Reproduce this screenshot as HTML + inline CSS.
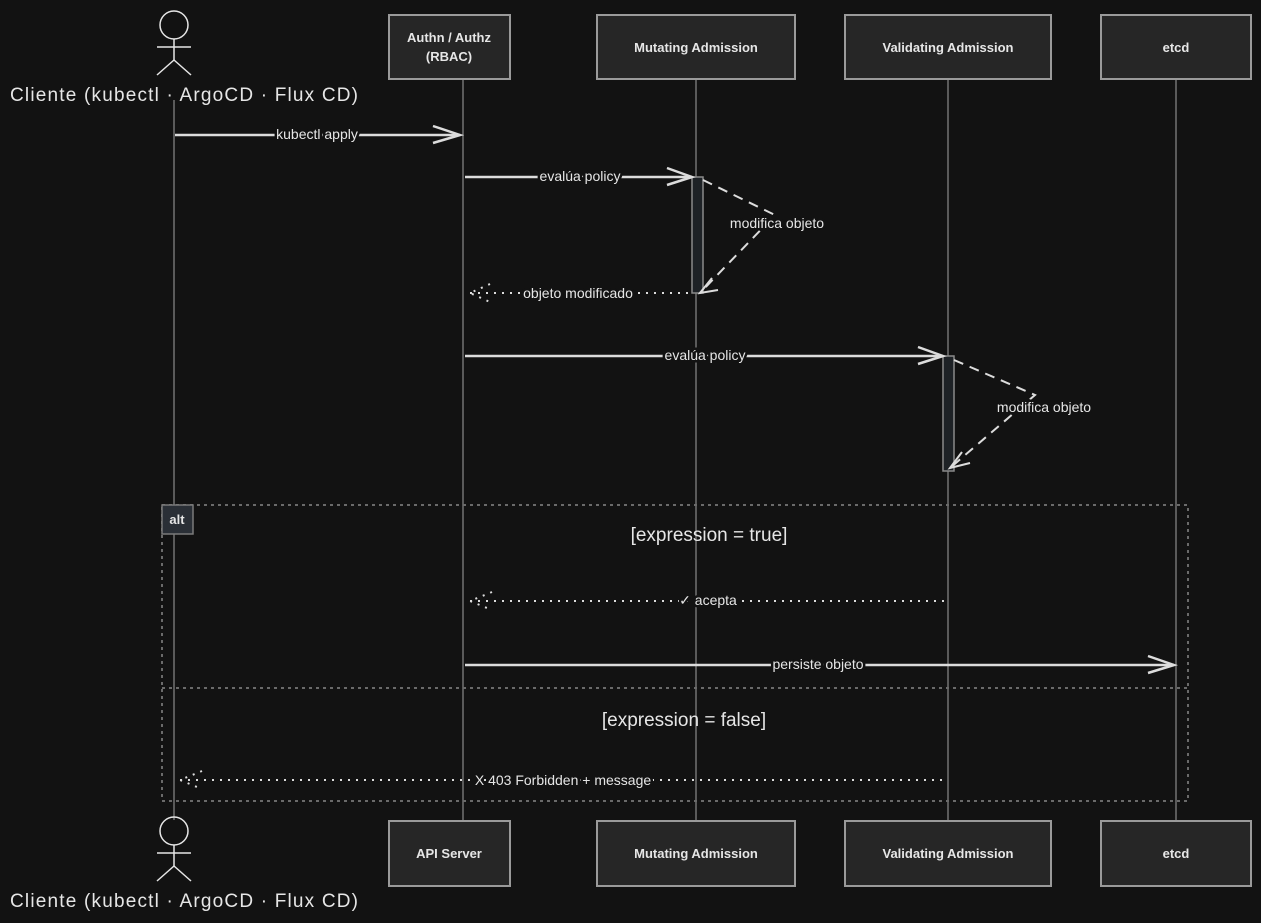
<!DOCTYPE html>
<html><head><style>
body{margin:0;background:#121212;}
svg{display:block}
text{font-family:"Liberation Sans",sans-serif;fill:#e6e6e6}
.lb{paint-order:stroke;stroke:#121212;stroke-width:5px}
</style></head><body>
<svg width="1261" height="923" viewBox="0 0 1261 923">
<rect width="1261" height="923" fill="#121212"/>
<g stroke="#8a8a8a" stroke-width="1.2">
<line x1="174" y1="100" x2="174" y2="820"/>
<line x1="463" y1="79" x2="463" y2="821"/>
<line x1="696" y1="79" x2="696" y2="821"/>
<line x1="948" y1="79" x2="948" y2="821"/>
<line x1="1176" y1="79" x2="1176" y2="821"/>
</g>
<g fill="#262626" stroke="#9a9a9a" stroke-width="2">
<rect x="389" y="15" width="121" height="64"/>
<rect x="597" y="15" width="198" height="64"/>
<rect x="845" y="15" width="206" height="64"/>
<rect x="1101" y="15" width="150" height="64"/>
<rect x="389" y="821" width="121" height="65"/>
<rect x="597" y="821" width="198" height="65"/>
<rect x="845" y="821" width="206" height="65"/>
<rect x="1101" y="821" width="150" height="65"/>
</g>
<g font-size="13" text-anchor="middle" font-weight="bold">
<text x="449" y="42">Authn / Authz</text><text x="449" y="61">(RBAC)</text>
<text x="696" y="52">Mutating Admission</text>
<text x="948" y="52">Validating Admission</text>
<text x="1176" y="52">etcd</text>
<text x="449" y="858">API Server</text>
<text x="696" y="858">Mutating Admission</text>
<text x="948" y="858">Validating Admission</text>
<text x="1176" y="858">etcd</text>
</g>
<g stroke="#e6e6e6" stroke-width="1.5" fill="none">
<circle cx="174" cy="25" r="14"/><line x1="174" y1="39" x2="174" y2="60"/><line x1="157" y1="47" x2="191" y2="47"/><line x1="174" y1="60" x2="157" y2="75"/><line x1="174" y1="60" x2="191" y2="75"/>
<circle cx="174" cy="831" r="14"/><line x1="174" y1="845" x2="174" y2="866"/><line x1="157" y1="853" x2="191" y2="853"/><line x1="174" y1="866" x2="157" y2="881"/><line x1="174" y1="866" x2="191" y2="881"/>
</g>
<g font-size="19" text-anchor="middle">
<text x="184" y="101" textLength="348">Cliente (kubectl · ArgoCD · Flux CD)</text>
<text x="184" y="907" textLength="348">Cliente (kubectl · ArgoCD · Flux CD)</text>
</g>
<g fill="#1e2226" stroke="#8a8a8a" stroke-width="1.5">
<rect x="692" y="177" width="11" height="116"/>
<rect x="943" y="356" width="11" height="115"/>
</g>
<g stroke="#dcdcdc" stroke-width="2.5" fill="none">
<line x1="175" y1="135" x2="460" y2="135"/><polyline points="433,126 460,135 433,143"/>
<line x1="465" y1="177" x2="692" y2="177"/><polyline points="667,168 692,177 667,185"/>
<line x1="465" y1="356" x2="943" y2="356"/><polyline points="918,347 943,356 918,364"/>
<line x1="465" y1="665" x2="1174" y2="665"/><polyline points="1148,656 1174,665 1148,673"/>
</g>
<g stroke="#dcdcdc" stroke-width="2" fill="none" stroke-dasharray="10,7">
<polyline points="703,180 775,215 700,293"/>
<polyline points="954,360 1035,395 950,468"/>
</g>
<g stroke="#dcdcdc" stroke-width="2" fill="none">
<polyline points="712,278 700,293 718,290"/><polyline points="962,452 950,468 970,463"/>
</g>
<g stroke="#dcdcdc" stroke-width="2" fill="none" stroke-dasharray="2,6">
<line x1="470" y1="293" x2="692" y2="293"/>
<line x1="470" y1="601" x2="946" y2="601"/>
<line x1="180" y1="780" x2="946" y2="780"/>
<polyline points="490,284 470,293 490,302"/>
<polyline points="492,592 470,601 492,610"/>
<polyline points="202,771 180,780 202,789"/>
</g>
<g font-size="14" text-anchor="middle" class="lb">
<text x="317" y="139">kubectl apply</text>
<text x="580" y="181">evalúa policy</text>
<text x="578" y="298">objeto modificado</text>
<text x="777" y="228">modifica objeto</text>
<text x="705" y="360">evalúa policy</text>
<text x="1044" y="412">modifica objeto</text>
<text x="708" y="605">✓ acepta</text>
<text x="818" y="669">persiste objeto</text>
<text x="563" y="785">X 403 Forbidden + message</text>
</g>
<g stroke="#6a6a6a" stroke-width="2" fill="none" stroke-dasharray="3,4">
<rect x="162" y="505" width="1026" height="296"/>
<line x1="162" y1="688" x2="1188" y2="688"/>
</g>
<rect x="162" y="505" width="31" height="29" fill="#2a2f36" stroke="#7a7a7a" stroke-width="1.5"/>
<text x="177" y="524" font-size="13" text-anchor="middle" font-weight="bold">alt</text>
<g font-size="19" text-anchor="middle">
<text x="709" y="541">[expression = true]</text>
<text x="684" y="726">[expression = false]</text>
</g>
</svg>
</body></html>
